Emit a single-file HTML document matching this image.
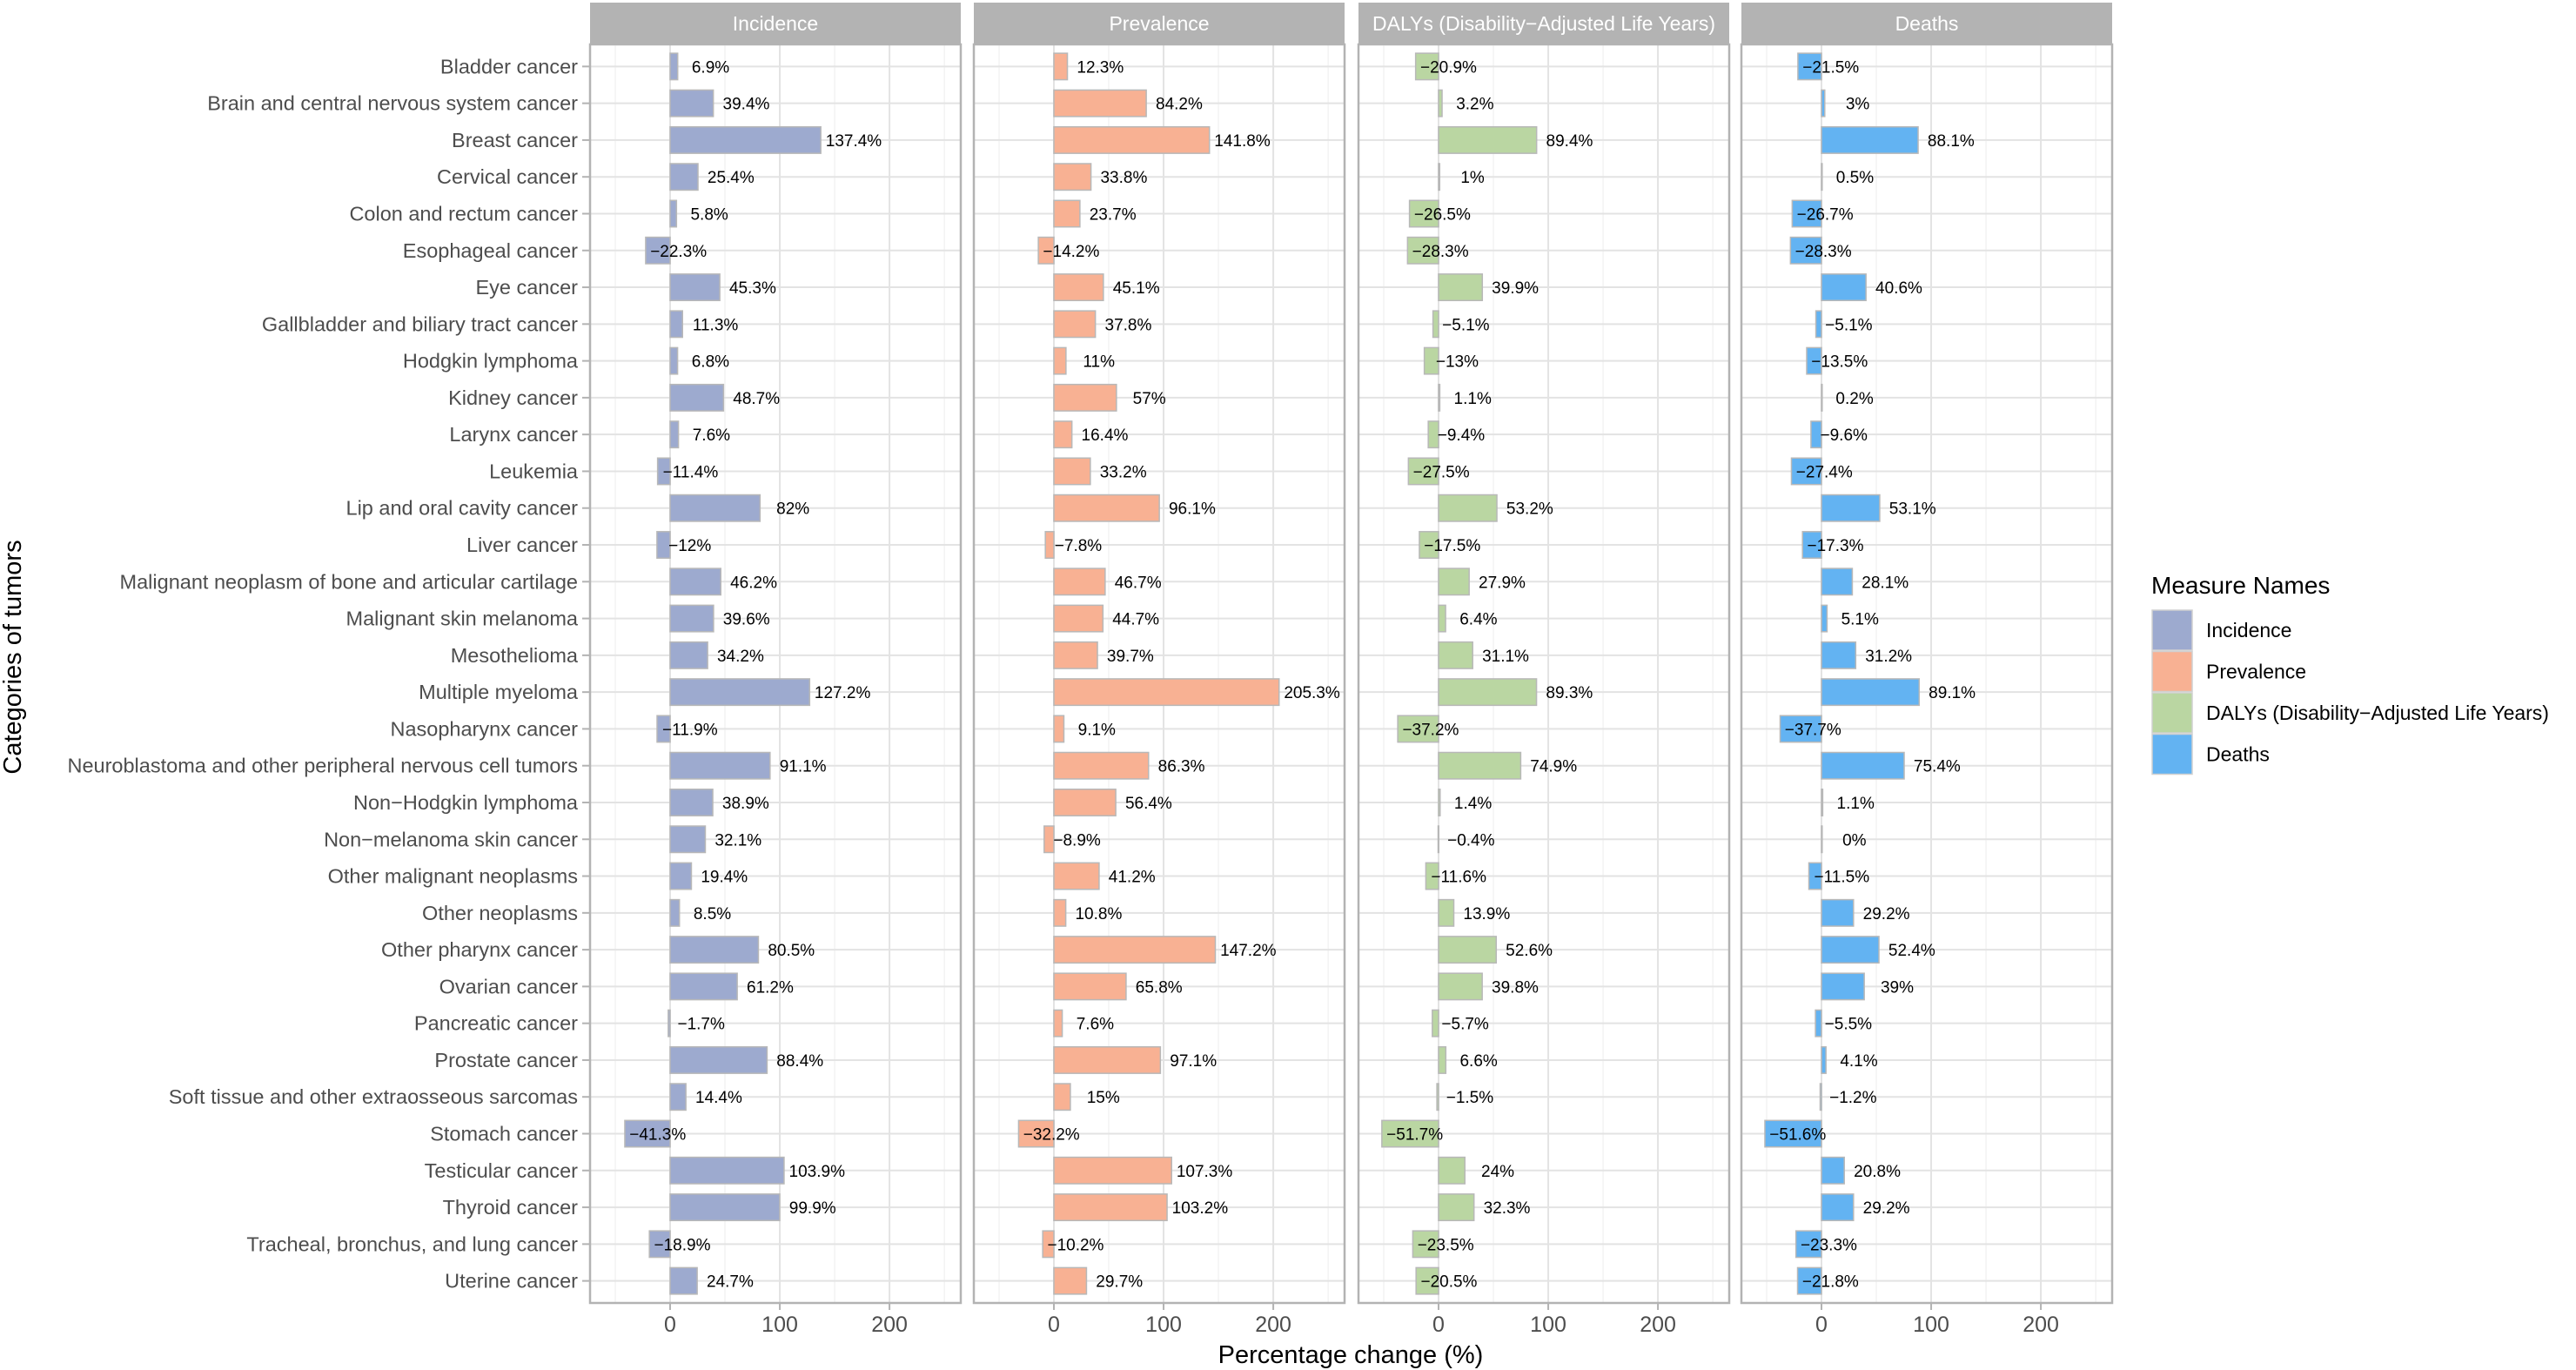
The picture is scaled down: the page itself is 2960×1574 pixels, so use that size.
<!DOCTYPE html>
<html><head><meta charset="utf-8"><style>
html,body{margin:0;padding:0;background:#fff;}
svg{display:block;font-family:"Liberation Sans",Arial,sans-serif;}
</style></head><body>
<svg id="chart" width="2960" height="1574" viewBox="0 0 2960 1574" xmlns="http://www.w3.org/2000/svg">
<g id="panels"></g>
<text x="1552" y="1566" font-size="29" text-anchor="middle" fill="#000">Percentage change (%)</text>
<text transform="translate(24,755) rotate(-90)" font-size="29" text-anchor="middle" fill="#000">Categories of tumors</text>
<g id="legend">
<text x="2472" y="682" font-size="28" fill="#000">Measure Names</text>
</g>
</svg>
<script>
const categories = ["Bladder cancer","Brain and central nervous system cancer","Breast cancer","Cervical cancer","Colon and rectum cancer","Esophageal cancer","Eye cancer","Gallbladder and biliary tract cancer","Hodgkin lymphoma","Kidney cancer","Larynx cancer","Leukemia","Lip and oral cavity cancer","Liver cancer","Malignant neoplasm of bone and articular cartilage","Malignant skin melanoma","Mesothelioma","Multiple myeloma","Nasopharynx cancer","Neuroblastoma and other peripheral nervous cell tumors","Non\u2212Hodgkin lymphoma","Non\u2212melanoma skin cancer","Other malignant neoplasms","Other neoplasms","Other pharynx cancer","Ovarian cancer","Pancreatic cancer","Prostate cancer","Soft tissue and other extraosseous sarcomas","Stomach cancer","Testicular cancer","Thyroid cancer","Tracheal, bronchus, and lung cancer","Uterine cancer"];
const measures = ["Incidence","Prevalence","DALYs (Disability\u2212Adjusted Life Years)","Deaths"];
const incidence = [6.9,39.4,137.4,25.4,5.8,-22.3,45.3,11.3,6.8,48.7,7.6,-11.4,82,-12,46.2,39.6,34.2,127.2,-11.9,91.1,38.9,32.1,19.4,8.5,80.5,61.2,-1.7,88.4,14.4,-41.3,103.9,99.9,-18.9,24.7];
const prevalence = [12.3,84.2,141.8,33.8,23.7,-14.2,45.1,37.8,11,57,16.4,33.2,96.1,-7.8,46.7,44.7,39.7,205.3,9.1,86.3,56.4,-8.9,41.2,10.8,147.2,65.8,7.6,97.1,15,-32.2,107.3,103.2,-10.2,29.7];
const dalys = [-20.9,3.2,89.4,1,-26.5,-28.3,39.9,-5.1,-13,1.1,-9.4,-27.5,53.2,-17.5,27.9,6.4,31.1,89.3,-37.2,74.9,1.4,-0.4,-11.6,13.9,52.6,39.8,-5.7,6.6,-1.5,-51.7,24,32.3,-23.5,-20.5];
const deaths = [-21.5,3,88.1,0.5,-26.7,-28.3,40.6,-5.1,-13.5,0.2,-9.6,-27.4,53.1,-17.3,28.1,5.1,31.2,89.1,-37.7,75.4,1.1,0,-11.5,29.2,52.4,39,-5.5,4.1,-1.2,-51.6,20.8,29.2,-23.3,-21.8];
const majorTicks = [0,100,200];
const minorTicks = [-50,50,150,250];

const series = [incidence, prevalence, dalys, deaths];
const colors = ["#9DAACF","#F8B193","#BAD6A2","#63B3F2"];
const NS = "http://www.w3.org/2000/svg";
const panelLefts = [678,1119,1561,2001];
const panelW = 426, pTop = 51, pBottom = 1497;
const xMin = -73, xMax = 265;
const n = categories.length;
const step = (pBottom - pTop) / (n - 1 + 1.2);
function yPos(i){ return pTop + (i + 0.6) * step; }
function xScale(p, v){ return panelLefts[p] + (v - xMin) / (xMax - xMin) * panelW; }
function mk(tag, attrs, parent){ const e = document.createElementNS(NS, tag); for (const k in attrs) e.setAttribute(k, attrs[k]); parent.appendChild(e); return e; }
function fmt(v){ return (v < 0 ? "\u2212" + Math.abs(v) : String(v)) + "%"; }

const root = document.getElementById("panels");
categories.forEach((c, i) => {
  const t = mk("text", {x: 664, y: yPos(i) + 8, "font-size": 23.5, "text-anchor": "end", fill: "#4D4D4D"}, root);
  
  
  t.textContent = c;
  const tk = mk("line", {x1: 669, x2: 678, y1: yPos(i), y2: yPos(i), stroke: "#B3B3B3", "stroke-width": 2}, root);
  
  
});

series.forEach((vals, p) => {
  const g = mk("g", {}, root);
  
  
  const L = panelLefts[p];
  const strip = mk("rect", {x: L, y: 3, width: panelW, height: pTop - 3, fill: "#B3B3B3"}, g);
  
  
  const st = mk("text", {x: L + panelW / 2, y: 35, "font-size": 23, "text-anchor": "middle", fill: "#fff"}, g);
  
  
  st.textContent = measures[p];
  minorTicks.forEach(v => {
    const l = mk("line", {x1: xScale(p, v), x2: xScale(p, v), y1: pTop, y2: pBottom, stroke: "#F0F0F0", "stroke-width": 1.2}, g);
    
    
  });
  majorTicks.forEach(v => {
    const l = mk("line", {x1: xScale(p, v), x2: xScale(p, v), y1: pTop, y2: pBottom, stroke: "#E3E3E3", "stroke-width": 2}, g);
    
    
    const tk = mk("line", {x1: xScale(p, v), x2: xScale(p, v), y1: pBottom, y2: pBottom + 8, stroke: "#B3B3B3", "stroke-width": 2}, g);
    
    
    const tl = mk("text", {x: xScale(p, v), y: pBottom + 33, "font-size": 25, "text-anchor": "middle", fill: "#4D4D4D"}, g);
    
    
    tl.textContent = v;
  });
  categories.forEach((c, i) => {
    const l = mk("line", {x1: L, x2: L + panelW, y1: yPos(i), y2: yPos(i), stroke: "#E3E3E3", "stroke-width": 2}, g);
    
    
  });
  vals.forEach((v, i) => {
    const x0 = xScale(p, 0), x1 = xScale(p, v);
    const h = step * 0.72;
    const r = mk("rect", {x: Math.min(x0, x1), y: yPos(i) - h / 2, width: Math.max(Math.abs(x1 - x0), 0.8), height: h, fill: colors[p], stroke: "#B8B8B8", "stroke-width": 1.5}, g);
    
    
    const t = mk("text", {x: xScale(p, v + 30), y: yPos(i) + 7, "font-size": 19, "text-anchor": "middle", fill: "#000"}, g);
    
    
    t.textContent = fmt(v);
  });
  const border = mk("rect", {x: L, y: pTop, width: panelW, height: pBottom - pTop, fill: "none", stroke: "#B3B3B3", "stroke-width": 2.5}, g);
  
  
});

const lg = document.getElementById("legend");
measures.forEach((m, k) => {
  const y = 701 + k * 47.5;
  const r = mk("rect", {x: 2473, y: y, width: 46, height: 46, fill: colors[k], stroke: "#D0D0D0", "stroke-width": 1.5}, lg);
  
  
  const t = mk("text", {x: 2535, y: y + 31, "font-size": 23, fill: "#000"}, lg);
  
  
  t.textContent = m;
});
</script>
</body></html>
